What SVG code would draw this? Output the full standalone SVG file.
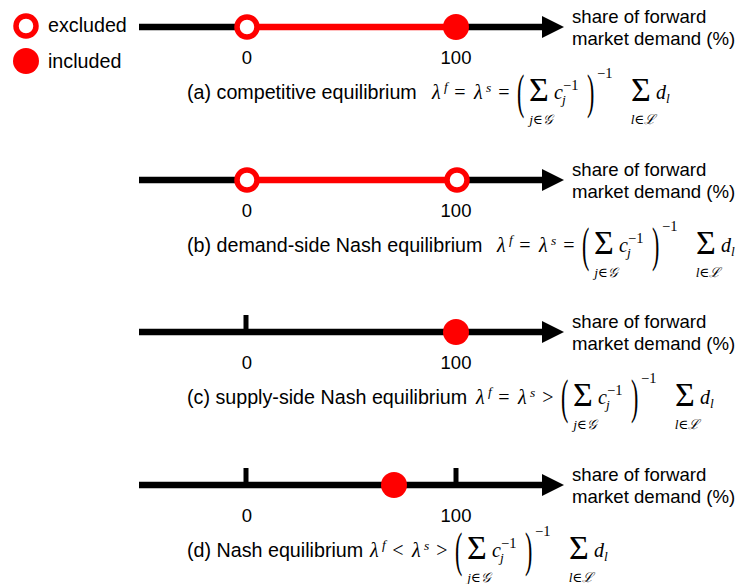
<svg xmlns="http://www.w3.org/2000/svg" width="743" height="584" viewBox="0 0 743 584">
<defs>
<style>
.txt{font-family:"Liberation Sans",Arial,sans-serif;font-size:19.7px;fill:#000}
.lab{font-family:"Liberation Sans",Arial,sans-serif;font-size:18.6px;fill:#000}
.num{font-family:"Liberation Sans",Arial,sans-serif;font-size:18.5px;fill:#000;text-anchor:middle}
.mi{font-family:"Liberation Serif","DejaVu Serif",serif;font-style:italic;font-size:20px;fill:#000}
.mo{font-family:"Liberation Serif","DejaVu Serif",serif;font-size:20px;fill:#000;text-anchor:middle}
.sm{font-family:"Liberation Serif","DejaVu Serif",serif;font-style:italic;font-size:13.5px;fill:#000}
.smu{font-family:"Liberation Serif","DejaVu Serif",serif;font-size:14.5px;fill:#000}
.big{font-family:"Liberation Serif","DejaVu Serif",serif;font-size:34px;fill:#000}
.par{font-family:"Liberation Serif","DejaVu Serif",serif;font-size:22px;fill:#000}
.axis{stroke:#000;stroke-width:6.5;fill:none}
.red{stroke:#ff0000;stroke-width:6.5;fill:none}
.open{fill:#fff;stroke:#ff0000;stroke-width:5.5}
.fill{fill:#ff0000}
.tick{stroke:#000;stroke-width:5;fill:none}
</style>
<g id="formula-tail">
<text class="par" transform="translate(85,9) scale(1,2.2)">(</text>
<text class="big" x="97" y="0" dy="2">Σ</text>
<text class="sm" x="109" y="25" text-anchor="middle">j∈<tspan font-family="DejaVu Serif">𝒢</tspan></text>
<text class="mi" x="122" y="0">c</text>
<text class="sm" x="130" y="5">j</text>
<text class="smu" x="131" y="-9">−1</text>
<text class="par" transform="translate(155,9) scale(1,2.2)">)</text>
<text class="smu" x="165" y="-21">−1</text>
<text class="big" x="199" y="0" dy="2">Σ</text>
<text class="sm" x="211" y="25" text-anchor="middle">l∈<tspan font-family="DejaVu Serif">ℒ</tspan></text>
<text class="mi" x="224" y="0">d</text>
<text class="sm" x="234" y="4">l</text>
</g>
</defs>

<g id="legend">
<circle class="open" cx="26" cy="26" r="10"/>
<text class="txt" x="48" y="32">excluded</text>
<circle class="fill" cx="26" cy="61" r="13"/>
<text class="txt" x="48" y="68">included</text>
</g>

<g id="connectors">
<!-- (a) -->
<line class="axis" x1="139" y1="27" x2="247" y2="27"/>
<line class="red" x1="247" y1="27" x2="456" y2="27"/>
<line class="axis" x1="456" y1="27" x2="545" y2="27"/>
<polygon points="542,16 564,27 542,38" fill="#000"/>
<!-- (b) -->
<line class="axis" x1="139" y1="180" x2="247" y2="180"/>
<line class="red" x1="247" y1="180" x2="457" y2="180"/>
<line class="axis" x1="457" y1="180" x2="545" y2="180"/>
<polygon points="542,169 564,180 542,191" fill="#000"/>
<!-- (c) -->
<line class="axis" x1="139" y1="332" x2="545" y2="332"/>
<polygon points="542,321 564,332 542,343" fill="#000"/>
<line class="tick" x1="246" y1="315" x2="246" y2="332"/>
<!-- (d) -->
<line class="axis" x1="139" y1="485" x2="545" y2="485"/>
<polygon points="542,474 564,485 542,496" fill="#000"/>
<line class="tick" x1="246" y1="468" x2="246" y2="485"/>
<line class="tick" x1="456" y1="468" x2="456" y2="485"/>
</g>

<g id="panel-a">
<circle class="open" cx="247" cy="27" r="10"/>
<circle class="fill" cx="456" cy="27" r="13"/>
<text class="num" x="247" y="64">0</text>
<text class="num" x="456" y="64">100</text>
<text class="lab" x="572" y="23">share of forward</text>
<text class="lab" x="572" y="45">market demand (%)</text>
<text class="txt" x="187" y="99">(a) competitive equilibrium</text>
<g transform="translate(432,99)">
<text class="mi" x="0" y="0">λ</text>
<text class="sm" x="12" y="-8">f</text>
<text class="mo" x="28" y="0">=</text>
<text class="mi" x="42" y="0">λ</text>
<text class="sm" x="54" y="-7">s</text>
<text class="mo" x="72" y="0">=</text>
<use href="#formula-tail"/>
</g>
</g>

<g id="panel-b">
<circle class="open" cx="247" cy="180" r="10"/>
<circle class="open" cx="457" cy="180" r="10"/>
<text class="num" x="247" y="217">0</text>
<text class="num" x="456" y="217">100</text>
<text class="lab" x="572" y="176">share of forward</text>
<text class="lab" x="572" y="198">market demand (%)</text>
<text class="txt" x="187" y="252">(b) demand-side Nash equilibrium</text>
<g transform="translate(497,252)">
<text class="mi" x="0" y="0">λ</text>
<text class="sm" x="12" y="-8">f</text>
<text class="mo" x="28" y="0">=</text>
<text class="mi" x="42" y="0">λ</text>
<text class="sm" x="54" y="-7">s</text>
<text class="mo" x="72" y="0">=</text>
<use href="#formula-tail"/>
</g>
</g>

<g id="panel-c">
<circle class="fill" cx="456" cy="332" r="13"/>
<text class="num" x="247" y="369">0</text>
<text class="num" x="456" y="369">100</text>
<text class="lab" x="572" y="328">share of forward</text>
<text class="lab" x="572" y="350">market demand (%)</text>
<text class="txt" x="187" y="404">(c) supply-side Nash equilibrium</text>
<g transform="translate(476,404)">
<text class="mi" x="0" y="0">λ</text>
<text class="sm" x="12" y="-8">f</text>
<text class="mo" x="28" y="0">=</text>
<text class="mi" x="42" y="0">λ</text>
<text class="sm" x="54" y="-7">s</text>
<text class="mo" x="72" y="0">&gt;</text>
<use href="#formula-tail"/>
</g>
</g>

<g id="panel-d">
<circle class="fill" cx="394" cy="485" r="13"/>
<text class="num" x="247" y="522">0</text>
<text class="num" x="456" y="522">100</text>
<text class="lab" x="572" y="481">share of forward</text>
<text class="lab" x="572" y="503">market demand (%)</text>
<text class="txt" x="187" y="557">(d) Nash equilibrium</text>
<g transform="translate(370,557)">
<text class="mi" x="0" y="0">λ</text>
<text class="sm" x="12" y="-8">f</text>
<text class="mo" x="28" y="0">&lt;</text>
<text class="mi" x="42" y="0">λ</text>
<text class="sm" x="54" y="-7">s</text>
<text class="mo" x="72" y="0">&gt;</text>
<use href="#formula-tail"/>
</g>
</g>
</svg>
